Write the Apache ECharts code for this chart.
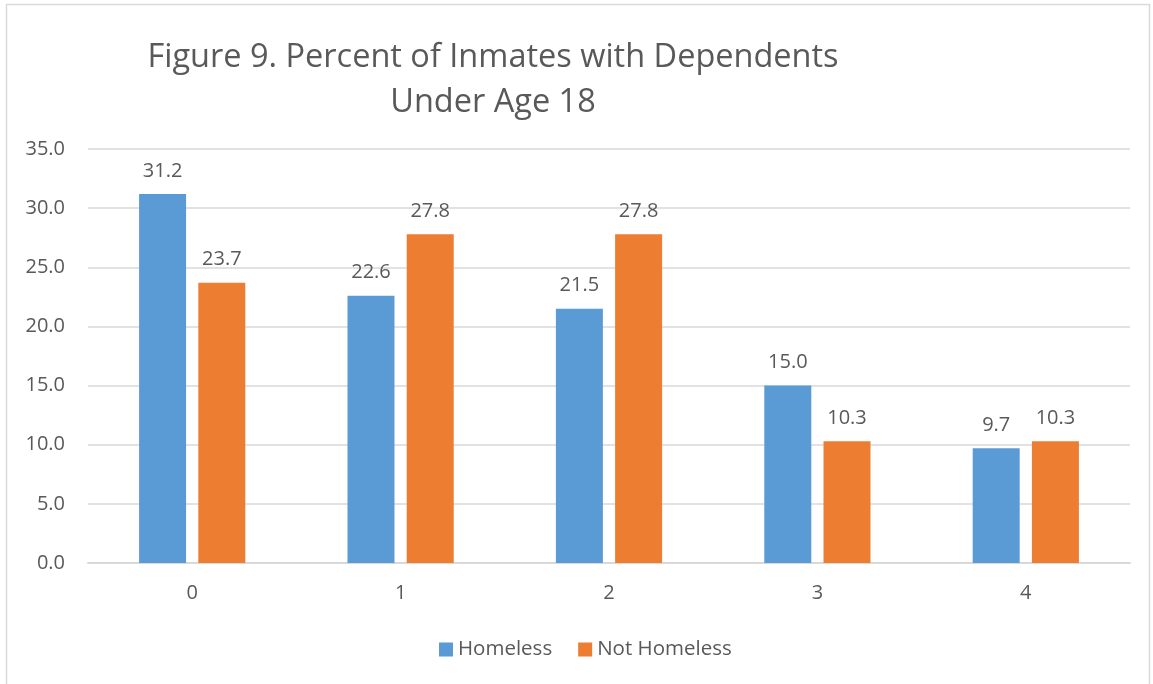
<!DOCTYPE html>
<html><head><meta charset="utf-8">
<script src="https://cdn.jsdelivr.net/npm/echarts@6/dist/echarts.min.js"></script>
<style>html,body{margin:0;padding:0;background:#fff}#c{width:1153px;height:684px}</style>
</head><body><div id="c"></div>
<script>
const categories = ['0','1','2','3','4'];
const homeless = [31.2, 22.6, 21.5, 15.0, 9.7];
const notHomeless = [23.7, 27.8, 27.8, 10.3, 10.3];
const seriesNames = ['Homeless', 'Not Homeless'];
const titleLines = ['Figure 9. Percent of Inmates with Dependents', 'Under Age 18'];

const font = 'Open Sans';
const txt = '#595959';
const chart = echarts.init(document.getElementById('c'));
const lbl = {show:true, position:'top', distance:13, color:txt, fontFamily:font, fontSize:20, formatter:p=>p.value.toFixed(1)};
chart.setOption({
  backgroundColor:'#fff',
  graphic:[{type:'rect', shape:{x:6.5,y:4.5,width:1143,height:690}, style:{fill:'none', stroke:'#d9d9d9', lineWidth:1.5}, silent:true}],
  title:{text:titleLines.join('\n'), left:488, top:30, textAlign:'center',
    textStyle:{fontFamily:font, fontSize:32.5, fontWeight:'normal', color:txt, lineHeight:45}},
  legend:{bottom:19, left:434, itemWidth:14, itemHeight:14, itemGap:26, itemStyle:{borderWidth:0}, icon:'rect',
    textStyle:{fontFamily:font, fontSize:20.5, color:txt}, data:seriesNames},
  grid:{left:88, right:23, top:149, bottom:121, containLabel:false},
  xAxis:{type:'category', data:categories, axisTick:{show:false},
    axisLine:{lineStyle:{color:'#d9d9d9', width:2}},
    axisLabel:{color:txt, fontFamily:font, fontSize:20, margin:20}},
  yAxis:{type:'value', min:0, max:35, interval:5, splitLine:{lineStyle:{color:'#d9d9d9', width:1.5}},
    axisLine:{show:false}, axisTick:{show:false},
    axisLabel:{color:txt, fontFamily:font, fontSize:20, margin:23, formatter:v=>v.toFixed(1)}},
  series:[
    {name:seriesNames[0], type:'bar', data:homeless, barWidth:47, barGap:'26%', itemStyle:{color:'#5b9bd5'}, label:lbl},
    {name:seriesNames[1], type:'bar', data:notHomeless, barWidth:47, itemStyle:{color:'#ed7d31'}, label:lbl}
  ]
});
</script></body></html>
